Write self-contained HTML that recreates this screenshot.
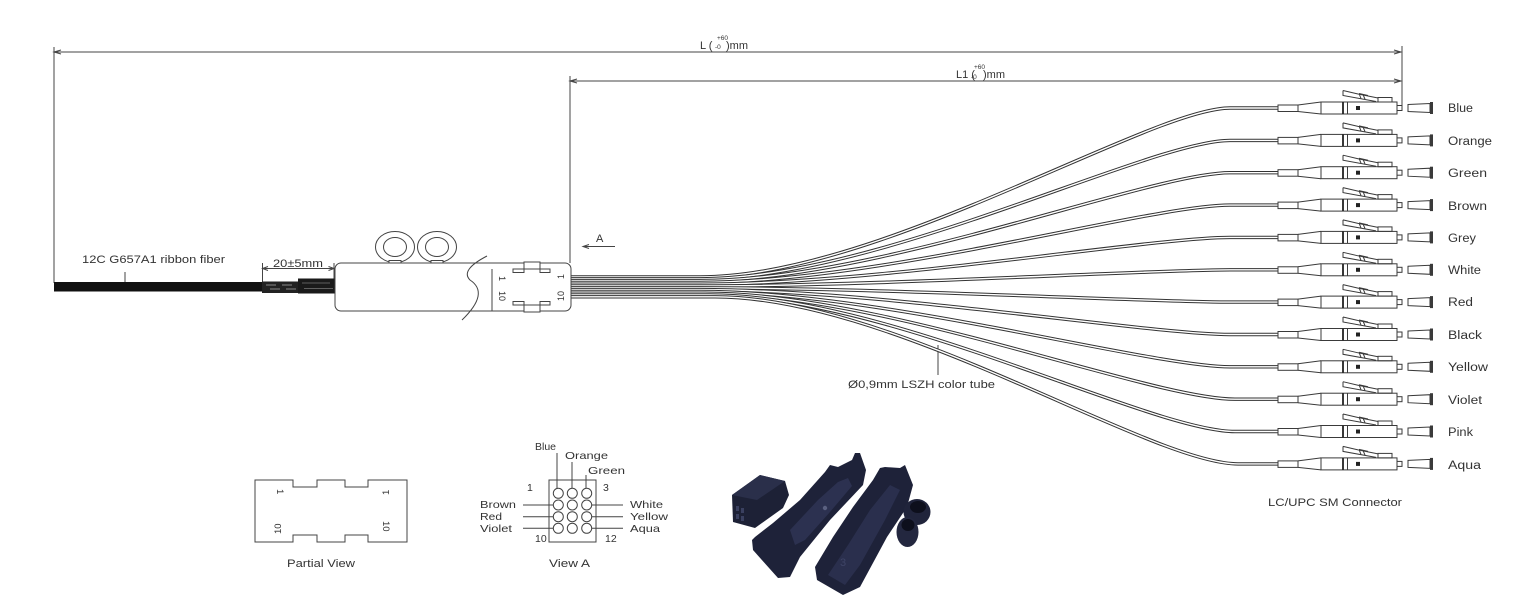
<!DOCTYPE html>
<html><head><meta charset="utf-8"><style>
html,body{margin:0;padding:0;background:#fff;}
svg{display:block;}
text{font-family:"Liberation Sans",Arial,sans-serif;fill:#333;}
</style></head><body>
<svg width="1522" height="604" viewBox="0 0 1522 604" xmlns="http://www.w3.org/2000/svg">
<defs>
<g id="conn" fill="none" stroke="#3a3a3a" stroke-width="1">
  <rect x="1278" y="-3" width="20" height="6.5"/>
  <path d="M1298,-3 L1321,-6 M1298,3.5 L1321,6"/>
  <rect x="1321" y="-6" width="76" height="12"/>
  <line x1="1343" y1="-6" x2="1343" y2="6" stroke-width="1.8" stroke="#222"/>
  <line x1="1347.5" y1="-6" x2="1347.5" y2="6"/>
  <rect x="1356" y="-2" width="4" height="4" fill="#222" stroke="none"/>
  <path d="M1343,-17.5 L1343,-12.5 L1376,-6.5 M1343,-17.5 L1358,-14 L1378,-10"/>
  <path d="M1359,-14.5 L1361,-9.5 M1363,-13.5 L1365,-8.8 M1359,-14.5 L1368,-12.5"/>
  <rect x="1378" y="-10.5" width="14" height="4.5"/>
  <rect x="1397" y="-2.5" width="5" height="5"/>
  <path d="M1408,-3.5 L1430,-4.5 L1430,4.5 L1408,3.5 Z"/>
  <rect x="1430" y="-6" width="3" height="12" fill="#3a3a3a" stroke="none"/>
</g>
</defs>

<!-- Dimension lines -->
<g fill="none" stroke="#444" stroke-width="1">
  <path d="M54,47 V283"/>
  <path d="M54,52 H1401"/>
  <path d="M61,50 L54,52 L61,54"/>
  <path d="M1394,50 L1401,52 L1394,54"/>
  <path d="M1402,46 V105.5"/>
  <path d="M570,76 V263"/>
  <path d="M570,81 H1401"/>
  <path d="M577,79 L570,81 L577,83"/>
  <path d="M1394,79 L1401,81 L1394,83"/>
  <path d="M583,246.5 H615"/>
  <path d="M589,244.5 L583,246.5 L589,248.5"/>
  <path d="M262.5,263 V283 M334,263 V280"/>
  <path d="M262.5,268.5 H334"/>
  <path d="M268,266.5 L262.5,268.5 L268,270.5 M328.5,266.5 L334,268.5 L328.5,270.5"/>
  <path d="M125,272 V283"/>
  <path d="M938,345 V375"/>
</g>

<!-- Dimension labels -->
<text x="700" y="49" font-size="11">L (</text>
<text x="717" y="40" font-size="6.5">+60</text>
<text x="715" y="49" font-size="6.5">-0</text>
<text x="726" y="49" font-size="11">)mm</text>

<text x="956" y="78" font-size="11">L1 (</text>
<text x="974" y="69" font-size="6.5">+60</text>
<text x="971" y="79" font-size="6.5">-0</text>
<text x="983" y="78" font-size="11">)mm</text>

<text x="596" y="242" font-size="11">A</text>
<text x="82" y="263" font-size="11" textLength="143" lengthAdjust="spacingAndGlyphs">12C G657A1 ribbon fiber</text>
<text x="273" y="267" font-size="11" textLength="50" lengthAdjust="spacingAndGlyphs">20±5mm</text>
<text x="848" y="388" font-size="11" textLength="147" lengthAdjust="spacingAndGlyphs">Ø0,9mm LSZH color tube</text>

<!-- Ribbon cable -->
<rect x="54" y="282" width="209" height="9.5" fill="#111"/>
<rect x="262" y="281.5" width="37" height="11.5" fill="#222"/>
<path d="M266,285 H276 M282,285 H292 M270,289 H280 M286,289 H296" stroke="#888" stroke-width="1" fill="none"/>
<rect x="298" y="278.5" width="37" height="15" fill="#1a1a1a"/>
<path d="M302,283 H330 M304,288.5 H333" stroke="#777" stroke-width="0.8" fill="none"/>

<!-- Fibers -->
<g fill="none" stroke-linecap="butt">
<path d="M571,277 H700 C880,277 1150,108 1230,108 H1278" stroke="#333" stroke-width="3.4"/>
<path d="M571,277 H700 C880,277 1150,108 1230,108 H1278" stroke="#fff" stroke-width="1.4"/>
<path d="M571,278.8 H700 C880,278.8 1150,140.4 1230,140.4 H1278" stroke="#333" stroke-width="3.4"/>
<path d="M571,278.8 H700 C880,278.8 1150,140.4 1230,140.4 H1278" stroke="#fff" stroke-width="1.4"/>
<path d="M571,280.6 H700 C880,280.6 1150,172.7 1230,172.7 H1278" stroke="#333" stroke-width="3.4"/>
<path d="M571,280.6 H700 C880,280.6 1150,172.7 1230,172.7 H1278" stroke="#fff" stroke-width="1.4"/>
<path d="M571,282.4 H700 C880,282.4 1150,205.1 1230,205.1 H1278" stroke="#333" stroke-width="3.4"/>
<path d="M571,282.4 H700 C880,282.4 1150,205.1 1230,205.1 H1278" stroke="#fff" stroke-width="1.4"/>
<path d="M571,284.2 H700 C880,284.2 1150,237.4 1230,237.4 H1278" stroke="#333" stroke-width="3.4"/>
<path d="M571,284.2 H700 C880,284.2 1150,237.4 1230,237.4 H1278" stroke="#fff" stroke-width="1.4"/>
<path d="M571,286 H700 C880,286 1150,269.8 1230,269.8 H1278" stroke="#333" stroke-width="3.4"/>
<path d="M571,286 H700 C880,286 1150,269.8 1230,269.8 H1278" stroke="#fff" stroke-width="1.4"/>
<path d="M571,287.8 H700 C880,287.8 1150,302.1 1230,302.1 H1278" stroke="#333" stroke-width="3.4"/>
<path d="M571,287.8 H700 C880,287.8 1150,302.1 1230,302.1 H1278" stroke="#fff" stroke-width="1.4"/>
<path d="M571,289.6 H700 C880,289.6 1150,334.5 1230,334.5 H1278" stroke="#333" stroke-width="3.4"/>
<path d="M571,289.6 H700 C880,289.6 1150,334.5 1230,334.5 H1278" stroke="#fff" stroke-width="1.4"/>
<path d="M571,291.4 H700 C880,291.4 1150,366.8 1230,366.8 H1278" stroke="#333" stroke-width="3.4"/>
<path d="M571,291.4 H700 C880,291.4 1150,366.8 1230,366.8 H1278" stroke="#fff" stroke-width="1.4"/>
<path d="M571,293.2 H705 C885,293.2 1150,399.2 1235,399.2 H1278" stroke="#333" stroke-width="3.4"/>
<path d="M571,293.2 H705 C885,293.2 1150,399.2 1235,399.2 H1278" stroke="#fff" stroke-width="1.4"/>
<path d="M571,295 H710 C890,295 1150,431.5 1235,431.5 H1278" stroke="#333" stroke-width="3.4"/>
<path d="M571,295 H710 C890,295 1150,431.5 1235,431.5 H1278" stroke="#fff" stroke-width="1.4"/>
<path d="M571,296.8 H715 C895,296.8 1150,463.9 1238,463.9 H1278" stroke="#333" stroke-width="3.4"/>
<path d="M571,296.8 H715 C895,296.8 1150,463.9 1238,463.9 H1278" stroke="#fff" stroke-width="1.4"/>
</g>

<!-- Fan-out box -->
<g fill="none" stroke="#444" stroke-width="1">
  <ellipse cx="395" cy="247" rx="19.5" ry="15.5" fill="#fff"/>
  <ellipse cx="395" cy="247" rx="11.5" ry="9.5"/>
  <ellipse cx="437" cy="247" rx="19.5" ry="15.5" fill="#fff"/>
  <ellipse cx="437" cy="247" rx="11.5" ry="9.5"/>
  <rect x="389" y="260.5" width="12" height="3" fill="#fff"/>
  <rect x="431" y="260.5" width="12" height="3" fill="#fff"/>
  <rect x="335" y="263" width="236" height="48" rx="6" fill="#fff"/>
  <path d="M487,256 Q460,270 470,280 Q490,293 462,320" fill="none"/>
  <path d="M492,269 V311"/>
  <rect x="524" y="262" width="16" height="7" fill="#fff"/>
  <rect x="513" y="269" width="11" height="3.5"/>
  <rect x="540" y="269" width="10" height="3.5"/>
  <rect x="524" y="305" width="16" height="7" fill="#fff"/>
  <rect x="513" y="301.5" width="11" height="3.5"/>
  <rect x="540" y="301.5" width="10" height="3.5"/>
</g>
<text font-size="9" transform="translate(499,276) rotate(90)">1</text>
<text font-size="9" transform="translate(499,291) rotate(90)">10</text>
<text font-size="9" transform="translate(564,279) rotate(-90)">1</text>
<text font-size="9" transform="translate(564,301) rotate(-90)">10</text>

<!-- Connectors -->
<use href="#conn" transform="translate(0,108)"/>
<use href="#conn" transform="translate(0,140.4)"/>
<use href="#conn" transform="translate(0,172.7)"/>
<use href="#conn" transform="translate(0,205.1)"/>
<use href="#conn" transform="translate(0,237.4)"/>
<use href="#conn" transform="translate(0,269.8)"/>
<use href="#conn" transform="translate(0,302.1)"/>
<use href="#conn" transform="translate(0,334.5)"/>
<use href="#conn" transform="translate(0,366.8)"/>
<use href="#conn" transform="translate(0,399.2)"/>
<use href="#conn" transform="translate(0,431.5)"/>
<use href="#conn" transform="translate(0,463.9)"/>

<g font-size="11.5">
<text x="1448" y="112" textLength="25" lengthAdjust="spacingAndGlyphs">Blue</text>
<text x="1448" y="145" textLength="44" lengthAdjust="spacingAndGlyphs">Orange</text>
<text x="1448" y="177" textLength="39" lengthAdjust="spacingAndGlyphs">Green</text>
<text x="1448" y="210" textLength="39" lengthAdjust="spacingAndGlyphs">Brown</text>
<text x="1448" y="242" textLength="28" lengthAdjust="spacingAndGlyphs">Grey</text>
<text x="1448" y="274" textLength="33" lengthAdjust="spacingAndGlyphs">White</text>
<text x="1448" y="306" textLength="25" lengthAdjust="spacingAndGlyphs">Red</text>
<text x="1448" y="339" textLength="34" lengthAdjust="spacingAndGlyphs">Black</text>
<text x="1448" y="371" textLength="40" lengthAdjust="spacingAndGlyphs">Yellow</text>
<text x="1448" y="404" textLength="34" lengthAdjust="spacingAndGlyphs">Violet</text>
<text x="1448" y="436" textLength="25" lengthAdjust="spacingAndGlyphs">Pink</text>
<text x="1448" y="469" textLength="33" lengthAdjust="spacingAndGlyphs">Aqua</text>
</g>
<text x="1268" y="506" font-size="11" textLength="134" lengthAdjust="spacingAndGlyphs">LC/UPC SM Connector</text>

<!-- Partial View -->
<path d="M255,480 H293 V487 H317 V480 H345 V487 H368 V480 H407 V542 H368 V535 H345 V542 H317 V535 H293 V542 H255 Z" fill="none" stroke="#444" stroke-width="1"/>
<text font-size="9.5" transform="translate(277,489) rotate(90)">1</text>
<text font-size="9.5" transform="translate(281,534) rotate(-90)">10</text>
<text font-size="9.5" transform="translate(389,495) rotate(-90)">1</text>
<text font-size="9.5" transform="translate(383,521) rotate(90)">10</text>
<text x="287" y="567" font-size="11" textLength="68" lengthAdjust="spacingAndGlyphs">Partial View</text>

<!-- View A -->
<g fill="none" stroke="#444" stroke-width="1">
  <rect x="549" y="480" width="47" height="62"/>
  <circle cx="558.3" cy="493.3" r="5"/><circle cx="572.3" cy="493.3" r="5"/><circle cx="586.7" cy="493.3" r="5"/>
  <circle cx="558.3" cy="505" r="5"/><circle cx="572.3" cy="505" r="5"/><circle cx="586.7" cy="505" r="5"/>
  <circle cx="558.3" cy="516.7" r="5"/><circle cx="572.3" cy="516.7" r="5"/><circle cx="586.7" cy="516.7" r="5"/>
  <circle cx="558.3" cy="528.3" r="5"/><circle cx="572.3" cy="528.3" r="5"/><circle cx="586.7" cy="528.3" r="5"/>
  <path d="M557,453 V488 M572,462 V488 M586,475 V488"/>
  <path d="M523,505 H553 M523,516.7 H553 M523,528.3 H553"/>
  <path d="M592,505 H623 M592,516.7 H623 M592,528.3 H623"/>
</g>
<g font-size="10.5">
<text x="535" y="450">Blue</text>
<text x="565" y="459" textLength="43" lengthAdjust="spacingAndGlyphs">Orange</text>
<text x="588" y="474" textLength="37" lengthAdjust="spacingAndGlyphs">Green</text>
<text x="527" y="491">1</text>
<text x="603" y="491">3</text>
<text x="535" y="542">10</text>
<text x="605" y="542">12</text>
<text x="480" y="508" textLength="36" lengthAdjust="spacingAndGlyphs">Brown</text>
<text x="480" y="520" textLength="22" lengthAdjust="spacingAndGlyphs">Red</text>
<text x="480" y="532" textLength="32" lengthAdjust="spacingAndGlyphs">Violet</text>
<text x="630" y="508" textLength="33" lengthAdjust="spacingAndGlyphs">White</text>
<text x="630" y="520" textLength="38" lengthAdjust="spacingAndGlyphs">Yellow</text>
<text x="630" y="532" textLength="30" lengthAdjust="spacingAndGlyphs">Aqua</text>
</g>
<text x="549" y="567" font-size="11" textLength="41" lengthAdjust="spacingAndGlyphs">View A</text>

<!-- Photo of parts -->
<g>
  <!-- small block -->
  <polygon points="732,495 760,475 785,481 789,495 783,508 755,528 733,522" fill="#1d2136"/>
  <polygon points="732,495 760,475 785,481 757,500" fill="#2a2f4a"/>
  <rect x="736" y="506" width="3" height="5" fill="#3a4060"/>
  <rect x="741" y="508" width="3" height="5" fill="#3a4060"/>
  <rect x="736" y="514" width="3" height="5" fill="#3a4060"/>
  <rect x="741" y="516" width="3" height="5" fill="#3a4060"/>
  <!-- left tray -->
  <polygon points="752,540 755,537 773,523 800,500 825,472 830,465 838,467 852,460 855,453 860,453 866,470 863,485 830,520 800,557 790,577 778,578 753,550" fill="#1e2239"/>
  <polygon points="790,530 818,500 838,482 848,478 852,486 830,512 805,540 795,545" fill="#2c3150"/>
  <circle cx="825" cy="508" r="2.2" fill="#5a6080"/>
  <!-- right tray -->
  <polygon points="815,567 833,537 853,507 873,480 880,468 885,467 900,468 905,465 913,485 907,507 887,537 860,587 843,595 817,580" fill="#1e2239"/>
  <polygon points="828,575 848,545 870,510 890,485 900,490 885,520 860,565 845,585" fill="#2a2f4d"/>
  <text x="840" y="566" font-size="11" style="fill:#3e4466">3</text>
  <!-- rings -->
  <ellipse cx="917" cy="512" rx="13.5" ry="13" fill="#20243b"/>
  <ellipse cx="918" cy="507" rx="8" ry="6" fill="#0d0f1c"/>
  <ellipse cx="907.5" cy="532" rx="11" ry="15" fill="#23273f"/>
  <ellipse cx="908" cy="525" rx="6.5" ry="6" fill="#0d0f1c"/>
</g>
</svg>
</body></html>
